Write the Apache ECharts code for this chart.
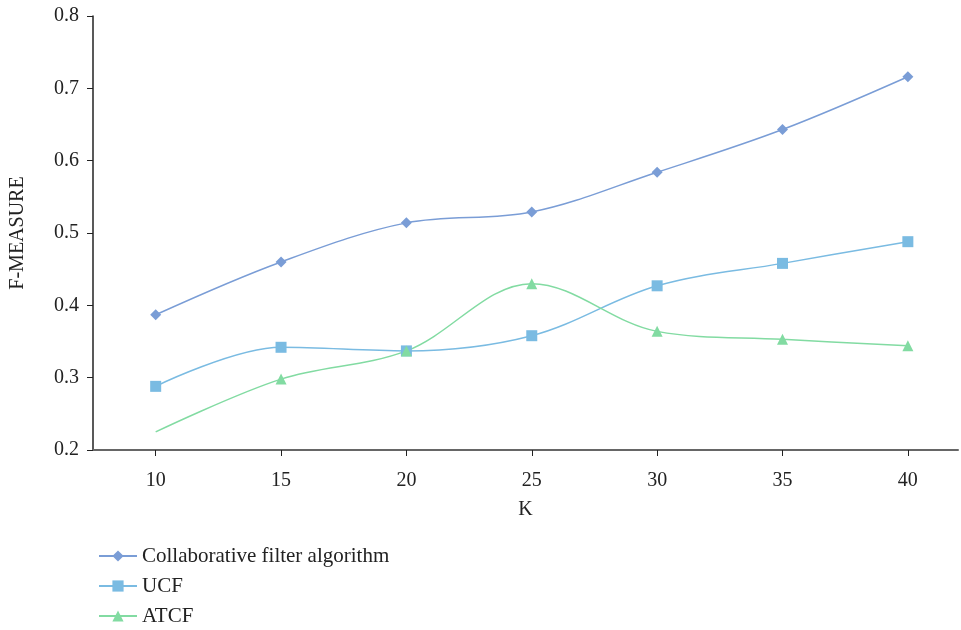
<!DOCTYPE html>
<html>
<head>
<meta charset="utf-8">
<script src="https://cdn.jsdelivr.net/npm/echarts@6/dist/echarts.min.js"></script>
<style>
  html, body { margin: 0; padding: 0; background: #fff; }
  #chart { width: 961px; height: 630px; }
</style>
</head>
<body>
<div id="chart"></div>
<script>
// K values on the horizontal axis
const kValues = [10, 15, 20, 25, 30, 35, 40];
const yTicks = [0.2, 0.3, 0.4, 0.5, 0.6, 0.7, 0.8];

// F-measure per algorithm
const cfaValues  = [0.387, 0.460, 0.514, 0.529, 0.584, 0.643, 0.716];
const ucfValues  = [0.288, 0.342, 0.337, 0.358, 0.427, 0.458, 0.488];
const atcfValues = [0.225, 0.298, 0.337, 0.430, 0.364, 0.353, 0.344];

const seriesNames = ['Collaborative filter algorithm', 'UCF', 'ATCF'];
const colors = ['#7a9dd6', '#7abbe2', '#82dba2'];

const font = '"Liberation Serif", "DejaVu Serif", serif';

function pairs(vals, hideFirst) {
  return vals.map((v, i) => {
    const item = { value: [kValues[i], v] };
    if (hideFirst && i === 0) item.symbol = 'none';
    return item;
  });
}

const chart = echarts.init(document.getElementById('chart'), null, { renderer: 'canvas' });

chart.setOption({
  animation: false,
  textStyle: { fontFamily: font },
  grid: { left: 93, right: 3, top: 16, bottom: 180, outerBoundsMode: 'none', containLabel: false },
  xAxis: {
    type: 'value',
    min: 7.5,
    max: 42,
    name: 'K',
    nameLocation: 'middle',
    nameGap: 50,
    nameTextStyle: { color: '#222', fontSize: 20, fontFamily: font },
    splitLine: { show: false },
    axisLine: { lineStyle: { color: '#666', width: 2 } },
    axisTick: { show: true, customValues: kValues, length: 6, lineStyle: { color: '#222', width: 1 } },
    axisLabel: { customValues: kValues, color: '#222', fontSize: 20, margin: 21, fontFamily: font }
  },
  yAxis: {
    type: 'value',
    min: yTicks[0],
    max: yTicks[yTicks.length - 1],
    interval: 0.1,
    name: 'F-MEASURE',
    nameLocation: 'middle',
    nameGap: 65,
    nameRotate: 90,
    nameTextStyle: { color: '#222', fontSize: 20, fontFamily: font },
    splitLine: { show: false },
    axisLine: { show: true, lineStyle: { color: '#222', width: 1.5 } },
    axisTick: { show: true, length: 6, lineStyle: { color: '#222', width: 1 } },
    axisLabel: {
      color: '#222', fontSize: 20, margin: 14, fontFamily: font,
      formatter: v => v.toFixed(1)
    }
  },
  legend: {
    orient: 'vertical',
    left: 93,
    top: 540,
    height: 120,
    itemWidth: 38,
    itemHeight: 14,
    itemGap: 8,
    textStyle: { color: '#222', fontSize: 21, fontFamily: font, lineHeight: 22 },
    data: seriesNames
  },
  series: [
    {
      name: seriesNames[0], type: 'line', smooth: 0.35,
      symbol: 'diamond', symbolSize: 11,
      itemStyle: { color: colors[0] },
      lineStyle: { color: colors[0], width: 1.5 },
      data: pairs(cfaValues, false)
    },
    {
      name: seriesNames[1], type: 'line', smooth: 0.35,
      symbol: 'rect', symbolSize: 11,
      itemStyle: { color: colors[1] },
      lineStyle: { color: colors[1], width: 1.5 },
      data: pairs(ucfValues, false)
    },
    {
      name: seriesNames[2], type: 'line', smooth: 0.35,
      symbol: 'triangle', symbolSize: 11,
      itemStyle: { color: colors[2] },
      lineStyle: { color: colors[2], width: 1.5 },
      data: pairs(atcfValues, true)
    }
  ]
});
</script>
</body>
</html>
